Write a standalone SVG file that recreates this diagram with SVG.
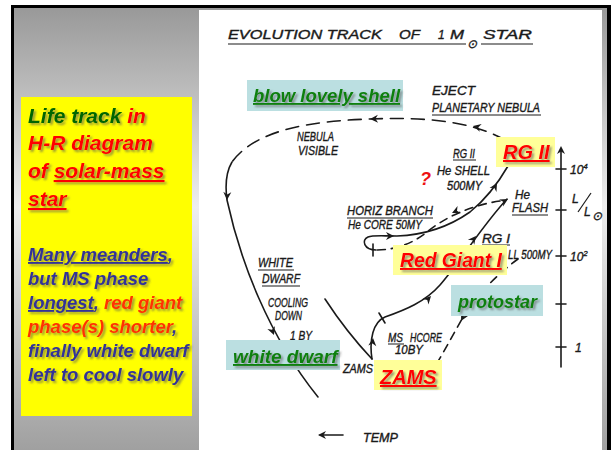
<svg xmlns="http://www.w3.org/2000/svg" xmlns:xlink="http://www.w3.org/1999/xlink" width="611" height="450" viewBox="0 0 611 450">
<defs>
<linearGradient id="bg" x1="0" y1="0" x2="0" y2="1">
<stop offset="0" stop-color="#999999"/>
<stop offset="0.45" stop-color="#eeeeee"/>
<stop offset="1" stop-color="#a0a0a0"/>
</linearGradient>
<filter id="sh" x="-10%" y="-30%" width="130%" height="170%">
<feDropShadow dx="2" dy="2" stdDeviation="1" flood-color="#555555" flood-opacity="0.6"/>
</filter>
<path id="ah" d="M0,0 L-8,-4 L-5.5,0 L-8,4 Z"/>
</defs>
<style>
.hw{font-family:"Liberation Sans",Arial,sans-serif;font-style:italic;fill:#1a1a1a;stroke:#1a1a1a;stroke-width:0.35;font-size:12px}
.ln{fill:none;stroke:#1a1a1a;stroke-width:1.6;stroke-linecap:round}
.ul{fill:none;stroke:#1a1a1a;stroke-width:1.2}
.dash{stroke-dasharray:13 8}
.dash2{stroke-dasharray:8 6}
.lbl{font-family:"Liberation Sans",Arial,sans-serif;font-weight:bold;font-style:italic;filter:url(#sh)}
.u{text-decoration:underline}
.yb{fill:#ffff99}
.tb{fill:#bbdfe1}
.ahd{fill:#1a1a1a}
.gr{fill:#0d800d}
.rd{fill:#ff0000}
</style>

<g id="frame">
<rect x="11" y="5" width="600" height="445" fill="#000"/>
<rect x="14" y="8" width="593" height="442" fill="url(#bg)"/>
<rect x="199" y="10" width="403" height="440" fill="#fff"/>
</g>

<g id="sidebar">
<rect x="21" y="97" width="171" height="319" fill="#ffff00"/>
<text class="lbl" font-size="21" x="28" y="123"><tspan fill="#006600">Life track </tspan><tspan fill="#ff0000">in</tspan></text>
<text class="lbl" font-size="21" x="28" y="150" fill="#ff0000">H-R diagram</text>
<text class="lbl" font-size="21" x="28" y="178" fill="#ff0000">of <tspan class="u">solar-mass</tspan></text>
<text class="lbl u" font-size="21" x="28" y="206" fill="#ff0000">star</text>
<text class="lbl" font-size="18.5" x="28" y="261" fill="#333399"><tspan class="u">Many meanders</tspan>,</text>
<text class="lbl" font-size="18.5" x="28" y="285" fill="#333399">but MS phase</text>
<text class="lbl" font-size="18.5" x="28" y="309" fill="#333399"><tspan class="u">longest</tspan>, <tspan fill="#ff3300">red giant</tspan></text>
<text class="lbl" font-size="18.5" x="28" y="333" fill="#ff3300">phase(s) shorter<tspan fill="#333399">,</tspan></text>
<text class="lbl" font-size="18.5" x="28" y="357" fill="#333399">finally white dwarf</text>
<text class="lbl" font-size="18.5" x="28" y="381" fill="#333399">left to cool slowly</text>
</g>

<g id="title">
<text class="hw" font-size="18" x="228" y="39" textLength="154" lengthAdjust="spacingAndGlyphs">EVOLUTION TRACK</text>
<text class="hw" font-size="18" x="399" y="39" textLength="21" lengthAdjust="spacingAndGlyphs">OF</text>
<text class="hw" font-size="18" x="438" y="39">1</text>
<text class="hw" font-size="18" x="450" y="39" textLength="14" lengthAdjust="spacingAndGlyphs">M</text>
<text class="hw" font-size="9" x="467" y="48">⊙</text>
<text class="hw" font-size="18" x="483" y="39" textLength="49" lengthAdjust="spacingAndGlyphs">STAR</text>
<path class="ul" d="M228,44 H466 M481,44 H533"/>
</g>

<g id="connectors">
<path class="ln dash" d="M505,140 C470,120 420,117 370,119 C310,121 255,130 232,162"/>
<path class="ln" d="M232,162 C226,172 225,185 227,200 C240,260 268,335 318,397"/>
<path class="ln" d="M325,299 C340,322 356,342 372,359"/>
<path class="ln" d="M372,359 C369,340 373,322 385,317 C405,310 425,302 440,285 C460,262 482,226 507,199"/>
<path class="ln" d="M379,313 L385,323"/>
<path class="ln" d="M376,250 C364,250 361,240 368,237 C373,235 382,236 397,236 C425,235 450,226 470,212 C485,200 497,185 508,166"/>
<path class="ln dash2" d="M500,201 C472,205 445,217 427,232 C412,244 395,250 376,250"/>
<path class="ln" d="M373,244 L373,256"/>
<path class="ln dash2" d="M518,259 C500,272 480,292 468,309 C458,325 448,345 437,363"/>
<path class="ln" d="M561,367 L561,150 M556,169 H566 M556,210 H566 M556,256 H566 M556,304 H566 M556,347 H566"/>
<path class="ln" d="M343,435 L320,435"/>
<use href="#ah" class="ahd" transform="translate(473,126) rotate(193)"/>
<use href="#ah" class="ahd" transform="translate(370,119) rotate(178)"/>
<use href="#ah" class="ahd" transform="translate(227,200) rotate(92)"/>
<use href="#ah" class="ahd" transform="translate(274,335) rotate(69)"/>
<use href="#ah" class="ahd" transform="translate(373,338) rotate(-85)"/>
<use href="#ah" class="ahd" transform="translate(431,296) rotate(-47)"/>
<use href="#ah" class="ahd" transform="translate(476,236) rotate(-52)"/>
<use href="#ah" class="ahd" transform="translate(508,199) rotate(-30)"/>
<use href="#ah" class="ahd" transform="translate(452,213) rotate(155)"/>
<use href="#ah" class="ahd" transform="translate(394,236) rotate(0)"/>
<use href="#ah" class="ahd" transform="translate(497,183) rotate(-60)"/>
<use href="#ah" class="ahd" transform="translate(461,321) rotate(118)"/>
<use href="#ah" class="ahd" transform="translate(561,146) rotate(-90)"/>
<use href="#ah" class="ahd" transform="translate(318,435) rotate(180)"/>
</g>

<g id="handlabels">
<text class="hw" x="432" y="95" textLength="43" lengthAdjust="spacingAndGlyphs">EJECT</text>
<text class="hw" x="432" y="112" textLength="108" lengthAdjust="spacingAndGlyphs">PLANETARY NEBULA</text>
<text class="hw" x="297" y="141" textLength="37" lengthAdjust="spacingAndGlyphs">NEBULA</text>
<text class="hw" x="298" y="155" textLength="40" lengthAdjust="spacingAndGlyphs">VISIBLE</text>
<text class="hw" x="453" y="158" textLength="22" lengthAdjust="spacingAndGlyphs">RG II</text>
<text class="hw" x="437" y="175" textLength="53" lengthAdjust="spacingAndGlyphs">He SHELL</text>
<text class="hw" x="447" y="190" textLength="35" lengthAdjust="spacingAndGlyphs">500MY</text>
<text class="hw" x="515" y="199" textLength="15" lengthAdjust="spacingAndGlyphs">He</text>
<text class="hw" x="512" y="212" textLength="36" lengthAdjust="spacingAndGlyphs">FLASH</text>
<text class="hw" font-size="11" x="347" y="215" textLength="86" lengthAdjust="spacingAndGlyphs">HORIZ BRANCH</text>
<text class="hw" font-size="10.5" x="348" y="229" textLength="74" lengthAdjust="spacingAndGlyphs">He CORE 50MY</text>
<text class="hw" x="482" y="243" textLength="28" lengthAdjust="spacingAndGlyphs">RG I</text>
<text class="hw" font-size="11" x="508" y="259" textLength="44" lengthAdjust="spacingAndGlyphs">LL 500MY</text>
<text class="hw" x="258" y="267" textLength="35" lengthAdjust="spacingAndGlyphs">WHITE</text>
<text class="hw" x="262" y="283" textLength="38" lengthAdjust="spacingAndGlyphs">DWARF</text>
<text class="hw" font-size="11" x="268" y="307" textLength="40" lengthAdjust="spacingAndGlyphs">COOLING</text>
<text class="hw" font-size="11" x="275" y="320" textLength="27" lengthAdjust="spacingAndGlyphs">DOWN</text>
<text class="hw" font-size="11" x="290" y="340" textLength="22" lengthAdjust="spacingAndGlyphs">1 BY</text>
<text class="hw" font-size="11" x="343" y="373" textLength="30" lengthAdjust="spacingAndGlyphs">ZAMS</text>
<text class="hw" font-size="11" x="388" y="342" textLength="15" lengthAdjust="spacingAndGlyphs">MS</text>
<text class="hw" font-size="11" x="410" y="342" textLength="32" lengthAdjust="spacingAndGlyphs">HCORE</text>
<text class="hw" font-size="11" x="395" y="354" textLength="28" lengthAdjust="spacingAndGlyphs">10BY</text>
<text class="hw" font-size="14" x="363" y="442" textLength="35" lengthAdjust="spacingAndGlyphs">TEMP</text>
<text class="hw" font-size="12" x="570" y="174">10<tspan font-size="8" dy="-5">4</tspan></text>
<text class="hw" font-size="12" x="570" y="261">10<tspan font-size="8" dy="-5">2</tspan></text>
<text class="hw" font-size="13" x="575" y="352">1</text>
<text class="hw" font-size="13" x="572" y="203">L</text>
<path class="ul" d="M578,212 L591,193"/>
<text class="hw" font-size="13" x="584" y="216">L</text>
<text class="hw" font-size="7" x="592" y="220">⊙</text>
<path class="ul" d="M432,115 H541 M453,160 H476 M512,215 H548 M347,218 H433 M482,245 H510 M258,270 H294 M262,286 H300 M388,344 H404"/>
<text x="420" y="185" font-family="Liberation Sans, Arial, sans-serif" font-weight="bold" font-style="italic" font-size="18" fill="#ee1111">?</text>
</g>

<g id="node-blow-lovely-shell">
<rect class="tb" x="247" y="80" width="156" height="31"/>
<text class="lbl u gr" font-size="18.5" x="253" y="102">blow lovely shell</text>
</g>
<g id="node-rg2">
<rect class="yb" x="496" y="137" width="59" height="30"/>
<text class="lbl u rd" font-size="20" x="503" y="159">RG II</text>
</g>
<g id="node-red-giant-1">
<rect class="yb" x="393" y="245" width="114" height="30"/>
<text class="lbl u rd" font-size="19.3" x="400" y="267">Red Giant I</text>
</g>
<g id="node-protostar">
<rect class="tb" x="451" y="285" width="92" height="31"/>
<text class="lbl gr" font-size="18" x="458" y="308">protostar</text>
</g>
<g id="node-white-dwarf">
<rect class="tb" x="226" y="340" width="114" height="30"/>
<text class="lbl u gr" font-size="19" x="233" y="363">white dwarf</text>
</g>
<g id="node-zams">
<rect class="yb" x="374" y="360" width="68" height="30"/>
<text class="lbl u rd" font-size="20" x="380" y="384">ZAMS</text>
</g>
</svg>
